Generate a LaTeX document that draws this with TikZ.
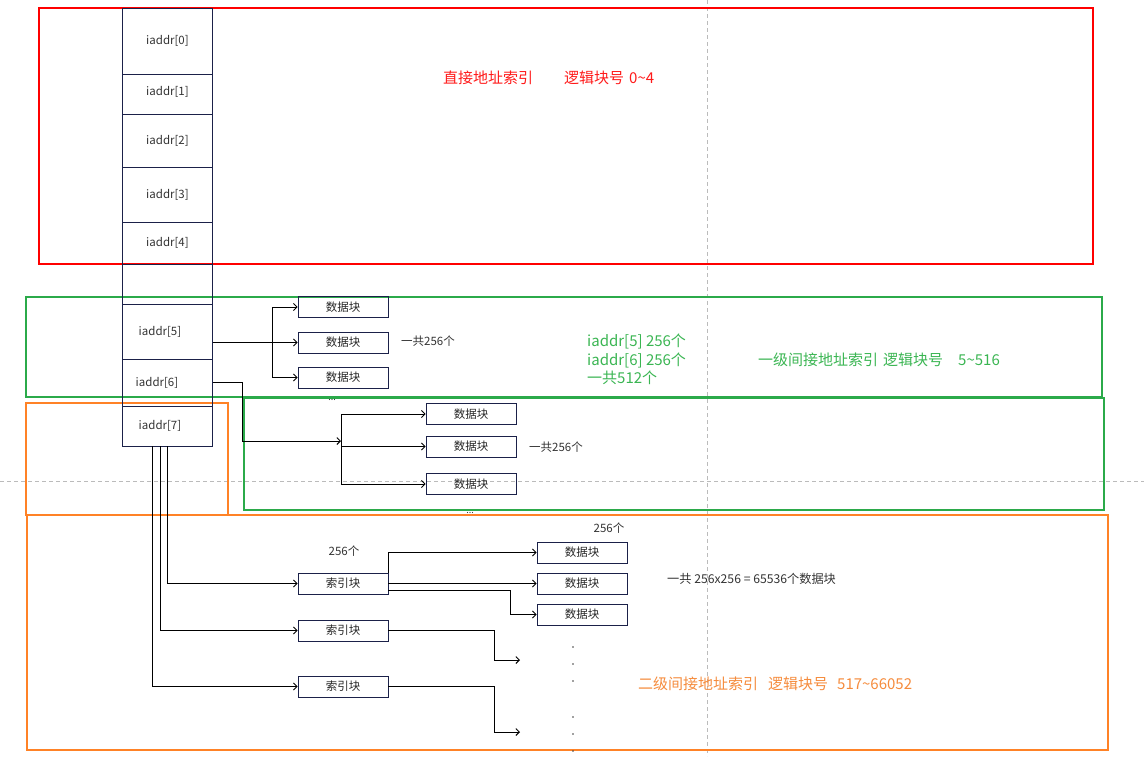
\documentclass[tikz,border=0pt]{standalone}
\usepackage{fontspec}
\setmainfont{Noto Sans CJK SC}
\usetikzlibrary{arrows, arrows.meta}
\definecolor{boxline}{HTML}{1B2149}
\definecolor{redline}{HTML}{FF0000}
\definecolor{redtext}{HTML}{FF1A1A}
\definecolor{greenline}{HTML}{2BAA4A}
\definecolor{greentext}{HTML}{3AB552}
\definecolor{orangeline}{HTML}{FF8226}
\definecolor{orangetext}{HTML}{F58B3C}
\definecolor{guide}{HTML}{BBBBBB}
\tikzset{
  cell/.style={draw=boxline, line width=0.8pt, minimum width=90pt, inner sep=0pt, font=\fontsize{11.5}{13}\selectfont, text=black!80},
  blk/.style={draw=boxline, line width=0.8pt, minimum width=90pt, minimum height=21pt, inner sep=0pt, font=\fontsize{11.5}{13}\selectfont, text=black!85},
  note/.style={inner sep=0pt, font=\fontsize{11.5}{13}\selectfont, text=black!80},
  bignote/.style={inner sep=0pt, font=\fontsize{15}{18.5}\selectfont},
  region/.style={line width=1.6pt},
  link/.style={-{Straight Barb[length=3.5pt, width=7pt]}, line width=0.9pt, black},
  guideline/.style={draw=guide, line width=0.6pt, dash pattern=on 4pt off 3pt}
}

\begin{document}
\begin{tikzpicture}[x=1pt, y=-1pt]
  \useasboundingbox (0,0) rectangle (1144,756);
  \draw[guideline] (707,0) -- (707,756);
  \draw[guideline] (0,481) -- (1144,481);

  % regions
  \draw[region, draw=redline] (39,8) rectangle (1093,264);
  \draw[region, draw=greenline] (26,297) rectangle (1102,397);
  \draw[region, draw=greenline] (244,398) rectangle (1104,510);
  \draw[region, draw=orangeline] (26,403) rectangle (228,515);
  \draw[region, draw=orangeline] (27,515) rectangle (1108,750);

  % iaddr column
  \node[cell, minimum height=66pt] (c0) at (167.5,41) {iaddr[0]};
  \node[cell, minimum height=40pt] (c1) at (167.5,94) {\raisebox{7pt}{iaddr[1]}};
  \node[cell, minimum height=53pt] (c2) at (167.5,140.5) {iaddr[2]};
  \node[cell, minimum height=55pt] (c3) at (167.5,194.5) {iaddr[3]};
  \node[cell, minimum height=42pt] (c4) at (167.5,243) {iaddr[4]};
  \node[cell, minimum height=40pt] (cg) at (167.5,284) {};
  \node[cell, minimum height=55pt] (c5) at (167.5,331.5) {\hspace*{-15pt}iaddr[5]};
  \node[cell, minimum height=47pt] (c6) at (167.5,382.5) {\hspace*{-21pt}iaddr[6]};
  \node[cell, minimum height=40pt] (c7) at (167.5,426) {\hspace*{-15pt}iaddr[7]};

  % one level
  \node[blk] (d1) at (343,307) {数据块};
  \node[blk] (d2) at (343,342.5) {数据块};
  \node[blk] (d3) at (343,377.5) {数据块};
  \node[note, anchor=west] (n1) at (401,341) {一共256个};
  \node[note, font=\fontsize{9}{10}\selectfont] (m1) at (332,400) {...};
  \coordinate (j5) at (272,342.5);

  \node[blk] (e1) at (471,414) {数据块};
  \node[blk] (e2) at (471,446.5) {数据块};
  \node[blk] (e3) at (471,484) {数据块};
  \node[note, anchor=west] (n2) at (529,447) {一共256个};
  \node[note, font=\fontsize{9}{10}\selectfont] (m2) at (470,512.5) {...};
  \coordinate (b6) at (242,441);
  \coordinate (j6) at (341,441);

  % two level
  \node[blk] (s1) at (343,583.5) {索引块};
  \node[blk] (s2) at (343,630.5) {索引块};
  \node[blk] (s3) at (343,686.5) {索引块};
  \node[note] (n3) at (344,551) {256个};

  \node[blk] (f1) at (582,552.5) {数据块};
  \node[blk] (f2) at (582,583.5) {数据块};
  \node[blk] (f3) at (582,614.5) {数据块};
  \node[note] (n4) at (609,528) {256个};
  \node[note, anchor=west, font=\fontsize{12.2}{14}\selectfont] (n5) at (667,579) {一共 256x256 = 65536个数据块};
  \coordinate (b3) at (510,614.5);
  \coordinate (b4) at (494,660);
  \coordinate (t2) at (520,660);
  \coordinate (b5) at (494,732);
  \coordinate (t3) at (520,732);

  % titles
  \node[bignote, text=redtext, anchor=west] (tdirect) at (443,78) {直接地址索引\hspace{31pt}逻辑块号\hspace{5pt}0\textasciitilde 4};
  \node[bignote, text=greentext, anchor=west, align=left] (tsum) at (587,359.5) {iaddr[5] 256个\\iaddr[6] 256个\\一共512个};
  \node[bignote, text=greentext, anchor=west] (tone) at (758,360) {一级间接地址索引\hspace{5pt}逻辑块号\hspace{15pt}5\textasciitilde 516};
  \node[bignote, text=orangetext, anchor=west] (ttwo) at (638,684) {二级间接地址索引\hspace{10pt}逻辑块号\hspace{9pt}517\textasciitilde 66052};

  % links
  \foreach \to in {d1, d2, d3}
    \draw[link] (c5.east |- d2.west) -- (j5) |- (\to.west);
  \draw[link] (c6.east) -| (b6) -- (j6);
  \foreach \to in {e1, e2, e3}
    \draw[link] (j6) |- (\to.west);
  \foreach \dx/\to in {0/s1, -7/s2, -15/s3}
    \draw[link] ([xshift=\dx pt]c7.south) |- (\to.west);
  \draw[link] (s1.north east) |- (f1.west);
  \draw[link] (s1.east) -- (f2.west);
  \draw[link] ([yshift=-7pt]s1.east) -| (b3) -- (f3.west);
  \draw[link] (s2.east) -| (b4) -- (t2);
  \draw[link] (s3.east) -| (b5) -- (t3);
  \foreach \y in {647, 664, 681, 717, 734, 751}
    \fill[black!75] (573,\y) circle (0.9pt);
\end{tikzpicture}
\end{document}
